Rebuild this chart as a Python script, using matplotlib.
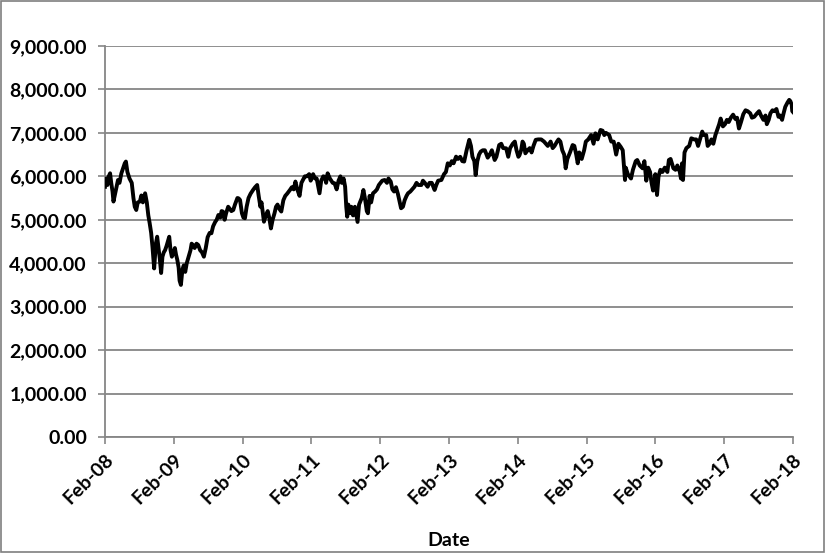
import matplotlib
matplotlib.use("Agg")
import matplotlib.pyplot as plt
import matplotlib.ticker as mticker
import pandas as pd

# index level, roughly every week or two
dates = [
    # 2008
    "2008-02-01", "2008-02-07", "2008-02-14", "2008-02-21", "2008-02-28", "2008-03-05",
    "2008-03-12", "2008-03-17", "2008-03-24", "2008-04-02", "2008-04-10", "2008-04-18",
    "2008-04-28", "2008-05-08", "2008-05-16", "2008-05-22", "2008-05-30", "2008-06-10",
    "2008-06-22", "2008-07-01", "2008-07-08", "2008-07-16", "2008-07-24", "2008-08-04",
    "2008-08-12", "2008-08-20", "2008-09-01", "2008-09-10", "2008-09-18", "2008-09-25",
    "2008-10-03", "2008-10-10", "2008-10-14", "2008-10-19", "2008-10-24", "2008-10-28",
    "2008-11-04", "2008-11-10", "2008-11-18", "2008-11-25", "2008-12-02", "2008-12-09",
    "2008-12-16", "2008-12-24",
    # 2009
    "2009-01-07", "2009-01-14", "2009-01-21", "2009-01-28", "2009-02-06", "2009-02-12",
    "2009-02-19", "2009-02-26", "2009-03-03", "2009-03-10", "2009-03-18", "2009-03-25",
    "2009-04-02", "2009-04-10", "2009-04-20", "2009-04-30", "2009-05-06", "2009-05-13",
    "2009-05-22", "2009-06-01", "2009-06-10", "2009-06-20", "2009-06-30", "2009-07-10",
    "2009-07-20", "2009-07-30", "2009-08-10", "2009-08-19", "2009-08-28", "2009-09-08",
    "2009-09-16", "2009-09-25", "2009-10-05", "2009-10-12", "2009-10-19", "2009-10-28",
    "2009-11-05", "2009-11-16", "2009-11-25", "2009-12-03", "2009-12-13", "2009-12-22",
    # 2010
    "2010-01-04", "2010-01-10", "2010-01-18", "2010-01-28", "2010-02-05", "2010-02-13",
    "2010-02-22", "2010-03-04", "2010-03-15", "2010-03-28", "2010-04-08", "2010-04-19",
    "2010-04-27", "2010-05-06", "2010-05-12", "2010-05-25", "2010-06-04", "2010-06-14",
    "2010-06-22", "2010-07-01", "2010-07-10", "2010-07-20", "2010-07-28", "2010-08-05",
    "2010-08-15", "2010-08-25", "2010-09-05", "2010-09-15", "2010-09-25", "2010-10-10",
    "2010-10-20", "2010-10-30", "2010-11-08", "2010-11-18", "2010-11-30", "2010-12-10",
    "2010-12-28",
    # 2011
    "2011-01-08", "2011-01-20", "2011-01-28", "2011-02-10", "2011-02-20", "2011-03-01",
    "2011-03-16", "2011-03-25", "2011-04-05", "2011-04-13", "2011-04-20", "2011-04-28",
    "2011-05-10", "2011-05-25", "2011-06-04", "2011-06-15", "2011-06-25", "2011-07-05",
    "2011-07-12", "2011-07-22", "2011-07-30", "2011-08-05", "2011-08-10", "2011-08-16",
    "2011-08-25", "2011-09-01", "2011-09-10", "2011-09-20", "2011-09-28", "2011-10-04",
    "2011-10-12", "2011-10-26", "2011-11-04", "2011-11-12", "2011-11-22", "2011-11-28",
    "2011-12-07", "2011-12-15", "2011-12-25",
    # 2012
    "2012-01-05", "2012-01-15", "2012-01-25", "2012-02-01", "2012-02-12", "2012-02-25",
    "2012-03-08", "2012-03-16", "2012-03-28", "2012-04-06", "2012-04-15", "2012-04-25",
    "2012-05-05", "2012-05-15", "2012-05-22", "2012-06-01", "2012-06-10", "2012-06-20",
    "2012-06-28", "2012-07-10", "2012-07-20", "2012-08-01", "2012-08-12", "2012-08-22",
    "2012-09-07", "2012-09-15", "2012-09-25", "2012-10-10", "2012-10-20", "2012-11-01",
    "2012-11-16", "2012-11-25", "2012-12-05", "2012-12-22",
    # 2013
    "2013-01-05", "2013-01-15", "2013-01-25", "2013-02-05", "2013-02-15", "2013-02-25",
    "2013-03-10", "2013-03-20", "2013-04-01", "2013-04-12", "2013-04-22", "2013-05-05",
    "2013-05-19", "2013-05-28", "2013-06-05", "2013-06-15", "2013-06-22", "2013-07-01",
    "2013-07-10", "2013-07-19", "2013-07-30", "2013-08-10", "2013-08-25", "2013-09-05",
    "2013-09-16", "2013-10-01", "2013-10-10", "2013-10-25", "2013-11-05", "2013-11-15",
    "2013-12-01", "2013-12-12", "2013-12-22",
    # 2014
    "2014-01-05", "2014-01-16", "2014-01-25", "2014-02-04", "2014-02-10", "2014-02-19",
    "2014-02-26", "2014-03-05", "2014-03-13", "2014-03-25", "2014-04-05", "2014-04-15",
    "2014-04-25", "2014-05-07", "2014-05-20", "2014-06-05", "2014-06-20", "2014-06-28",
    "2014-07-10", "2014-07-25", "2014-08-05", "2014-08-15", "2014-08-28", "2014-09-05",
    "2014-09-15", "2014-09-25", "2014-10-05", "2014-10-13", "2014-10-22", "2014-11-05",
    "2014-11-19", "2014-11-28", "2014-12-08", "2014-12-16", "2014-12-24",
    # 2015
    "2015-01-06", "2015-01-19", "2015-01-28", "2015-02-10", "2015-02-25", "2015-03-10",
    "2015-03-20", "2015-04-01", "2015-04-16", "2015-04-27", "2015-05-06", "2015-05-15",
    "2015-06-01", "2015-06-12", "2015-06-25", "2015-07-08", "2015-07-20", "2015-08-01",
    "2015-08-12", "2015-08-24", "2015-08-28", "2015-09-08", "2015-09-25", "2015-10-05",
    "2015-10-20", "2015-10-28", "2015-11-10", "2015-11-25", "2015-12-05", "2015-12-15",
    "2015-12-25",
    # 2016
    "2016-01-04", "2016-01-12", "2016-01-20", "2016-02-01", "2016-02-10", "2016-02-18",
    "2016-02-28", "2016-03-10", "2016-03-22", "2016-04-05", "2016-04-13", "2016-04-22",
    "2016-05-07", "2016-05-18", "2016-05-28", "2016-06-10", "2016-06-16", "2016-06-22",
    "2016-06-27", "2016-07-05", "2016-07-15", "2016-07-30", "2016-08-10", "2016-08-25",
    "2016-09-05", "2016-09-15", "2016-09-25", "2016-10-07", "2016-10-15", "2016-10-28",
    "2016-11-05", "2016-11-15", "2016-11-25", "2016-12-05", "2016-12-16", "2016-12-28",
    # 2017
    "2017-01-05", "2017-01-13", "2017-01-25", "2017-02-05", "2017-02-15", "2017-02-25",
    "2017-03-08", "2017-03-20", "2017-04-01", "2017-04-10", "2017-04-20", "2017-05-01",
    "2017-05-13", "2017-05-25", "2017-06-05", "2017-06-19", "2017-06-28", "2017-07-10",
    "2017-07-25", "2017-08-05", "2017-08-15", "2017-08-28", "2017-09-08", "2017-09-15",
    "2017-09-25", "2017-10-04", "2017-10-15", "2017-10-25", "2017-11-05", "2017-11-16",
    "2017-11-25", "2017-12-05", "2017-12-13", "2017-12-22",
    # 2018
    "2018-01-03", "2018-01-12", "2018-01-18", "2018-01-25", "2018-01-28", "2018-02-01",
]
values = [
    # 2008
    5760, 5950, 5800, 6000, 6070, 5850,
    5650, 5420, 5560, 5750, 5916, 5850,
    6070, 6200, 6300, 6340, 6100, 5950,
    5850, 5500, 5300, 5225, 5400, 5420,
    5560, 5400, 5610, 5400, 5100, 4926,
    4700, 4380, 4150, 3880, 4200, 4450,
    4610, 4400, 4100, 3775, 4150, 4250,
    4300, 4400,
    # 2009
    4610, 4300, 4150, 4230, 4350, 4200,
    4075, 3900, 3600, 3500, 3850, 3950,
    3800, 4000, 4150, 4300, 4450, 4420,
    4350, 4450, 4420, 4300, 4250, 4150,
    4350, 4600, 4700, 4690, 4850, 4950,
    5000, 5110, 5050, 5200, 5190, 5000,
    5150, 5300, 5250, 5200, 5225, 5350,
    # 2010
    5500, 5495, 5455, 5150, 5050, 5035,
    5300, 5500, 5600, 5686, 5750, 5800,
    5550, 5300, 5400, 4955, 5100, 5200,
    5050, 4800, 5000, 5150, 5300, 5350,
    5250, 5190, 5450, 5550, 5600, 5686,
    5750, 5700, 5880, 5700, 5550, 5850,
    6000,
    # 2011
    6000, 6050, 5900, 6050, 5950, 5950,
    5610, 5900, 6000, 5990, 5850, 6070,
    5950, 5850, 5840, 5700, 5900, 6000,
    5850, 5950, 5760, 5300, 5070, 5350,
    5150, 5300, 5100, 5300, 5100, 4950,
    5350, 5500, 5686, 5500, 5200, 5150,
    5550, 5400, 5610,
    # 2012
    5650, 5700, 5800, 5840, 5900, 5916,
    5850, 5950, 5880, 5700, 5650, 5750,
    5600, 5400, 5265, 5300, 5450, 5550,
    5610, 5650, 5700, 5760, 5850, 5800,
    5800, 5900, 5850, 5760, 5850, 5850,
    5686, 5800, 5900, 5916,
    # 2013
    6050, 6100, 6300, 6250, 6350, 6300,
    6453, 6400, 6450, 6350, 6340, 6600,
    6840, 6700, 6450, 6350, 6030, 6350,
    6500, 6570, 6600, 6600, 6430, 6500,
    6600, 6376, 6450, 6720, 6750, 6650,
    6645, 6450, 6650,
    # 2014
    6750, 6800, 6600, 6450, 6490, 6610,
    6800, 6750, 6530, 6600, 6650, 6550,
    6700, 6840, 6850, 6850, 6800, 6760,
    6700, 6800, 6650, 6700, 6800, 6850,
    6800, 6600, 6500, 6185, 6400, 6550,
    6720, 6700, 6500, 6300, 6550,
    # 2015
    6400, 6600, 6800, 6850, 6950, 6750,
    6990, 6850, 7067, 7050, 6950, 7000,
    6950, 6800, 6800, 6500, 6750, 6680,
    6600, 5916, 6200, 6050, 5950, 6150,
    6350, 6376, 6250, 6185, 6350, 5900,
    6200,
    # 2016
    6100, 5850, 5673, 6050, 5570, 6000,
    6150, 6100, 6200, 6100, 6376, 6400,
    6185, 6150, 6250, 6100, 5950, 6300,
    5916, 6550, 6650, 6700, 6875, 6850,
    6850, 6700, 6850, 7030, 6950, 6950,
    6700, 6750, 6850, 6750, 6950, 7100,
    # 2017
    7200, 7330, 7150, 7200, 7300, 7250,
    7350, 7420, 7320, 7350, 7100, 7250,
    7430, 7520, 7500, 7450, 7350, 7370,
    7450, 7500, 7400, 7300, 7400, 7200,
    7300, 7450, 7520, 7500, 7550, 7370,
    7400, 7300, 7450, 7600,
    # 2018
    7700, 7760, 7730, 7650, 7500, 7480,
]
tick_dates = ["2008-02-01", "2009-02-01", "2010-02-01", "2011-02-01", "2012-02-01", "2013-02-01",
              "2014-02-01", "2015-02-01", "2016-02-01", "2017-02-01", "2018-02-01"]
tick_labels = ["Feb-08", "Feb-09", "Feb-10", "Feb-11", "Feb-12", "Feb-13",
               "Feb-14", "Feb-15", "Feb-16", "Feb-17", "Feb-18"]

assert len(dates) == len(values)

plt.rcParams['font.family'] = ['Lato', 'DejaVu Sans']
plt.rcParams['font.weight'] = 'bold'

x = pd.to_datetime(dates)
ticks = pd.to_datetime(tick_dates)

fig = plt.figure(figsize=(8.26, 5.53), dpi=100)
ax = fig.add_axes([105 / 826, 1 - 437 / 553, 688 / 826, 391 / 553])

grid_color = '#868686'
ax.plot(x, values, color='black', linewidth=2.8, zorder=3)

ax.set_ylim(0, 9000)
ax.set_yticks(range(0, 9001, 1000))
ax.yaxis.set_major_formatter(mticker.FuncFormatter(lambda v, p: f"{v:,.2f}"))
ax.set_xlim(ticks[0], ticks[-1])
ax.set_xticks(ticks)
ax.set_xticklabels(tick_labels, rotation=45, ha='right', rotation_mode='anchor')

ax.grid(axis='y', color=grid_color, linewidth=1.3)
ax.set_axisbelow(True)
for s in ['top', 'right']:
    ax.spines[s].set_visible(False)
for s in ['left', 'bottom']:
    ax.spines[s].set_color(grid_color)
    ax.spines[s].set_linewidth(1.3)
ax.tick_params(axis='both', colors=grid_color, length=5, width=1.2, labelsize=14)
ax.tick_params(axis='y', pad=8)
ax.tick_params(axis='x', pad=5)
for lbl in ax.get_xticklabels() + ax.get_yticklabels():
    lbl.set_color('black')
    lbl.set_fontweight('bold')

ax.set_xlabel("Date", fontsize=14, fontweight='bold', labelpad=18)

fig.patches.append(plt.Rectangle((0.001, 0.001), 0.997, 0.997, transform=fig.transFigure,
                                 fill=False, edgecolor='#7f7f7f', linewidth=1.2))

fig.savefig("out.png", dpi=100)
